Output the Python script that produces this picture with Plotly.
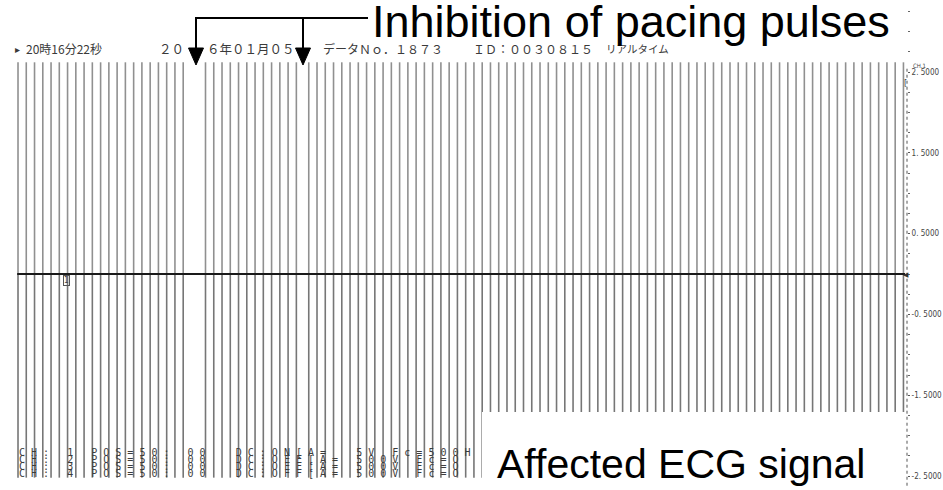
import plotly.graph_objects as go

# ---------------- data ----------------
# pacing-pulse artefacts (time, s) — gaps mark the inhibited pulses
pulse_times = [
    0.00, 0.10, 0.20, 0.30, 0.40, 0.50, 0.60, 0.70, 0.80, 0.90, 1.00,
    1.10, 1.20, 1.30, 1.40, 1.50, 1.60, 1.70, 1.80, 1.90, 2.00,
    2.27, 2.37, 2.47, 2.57, 2.67, 2.77, 2.87, 2.97, 3.07, 3.17, 3.27, 3.37,
    3.52, 3.62, 3.72, 3.82, 3.92, 4.02, 4.12, 4.22, 4.32, 4.42, 4.52, 4.62,
    4.72, 4.82, 4.92, 5.02, 5.12, 5.22, 5.32, 5.42, 5.52, 5.62, 5.72, 5.82,
    5.92, 6.02, 6.12, 6.22, 6.32, 6.42, 6.52, 6.62, 6.72, 6.82, 6.92, 7.02,
    7.12, 7.22, 7.32, 7.42, 7.52, 7.62, 7.72, 7.82, 7.92, 8.02, 8.12, 8.22,
    8.32, 8.42, 8.52, 8.62, 8.72, 8.82, 8.92, 9.02, 9.12, 9.22, 9.32, 9.42,
    9.52, 9.62, 9.72, 9.82, 9.92, 10.02, 10.12, 10.22, 10.32, 10.42, 10.52,
    10.62, 10.72,
]
pulse_top = 2.62
pulse_bottom = -2.52
baseline_value = 0.0

y_tick_values = [2.5, 1.5, 0.5, -0.5, -1.5, -2.5]
y_tick_labels = ["2. 5000", "1. 5000", "0. 5000", "-0. 5000", "-1. 5000", "-2. 5000"]

header_chunks = ["▸", "20時16分22秒", "２０", "６年０１月０５", "データＮｏ．１８７３",
                 "ＩＤ：００３０８１５", "リアルタイム"]
channel_rows = [
    "CH: 1 POS=50: 00  DC:ON[A=  5V Fc=500H",
    "CH: 2 POS=50: 00  DC:OFF[A= 500V Fc=O",
    "CH: 3 POS=50: 00  DC:OFF[A= 500V Fc=O",
    "CH: 4 POS=50: 00  DC:OFF[A= 500V Fc=O",
]
title_text = "Inhibition of pacing pulses"
signal_text = "Affected ECG signal"

# ---------------- layout helpers (pixel -> paper) ----------------
W, H = 943, 490
ML, MR, MT, MB = 0, 36, 0, 0
PW, PH = W - ML - MR, H - MT - MB


def px(x):
    return (x - ML) / PW


def py(y):
    return 1 - (y - MT) / PH


# ---------------- traces ----------------
ux, uy, lx, ly = [], [], [], []
for t in pulse_times:
    ux += [t, t, None]
    uy += [baseline_value, pulse_top, None]
    lx += [t, t, None]
    ly += [pulse_bottom, baseline_value, None]

fig = go.Figure()
fig.add_trace(go.Scatter(x=ux, y=uy, mode="lines", hoverinfo="skip",
                         line=dict(color="#909090", width=1.6), showlegend=False))
fig.add_trace(go.Scatter(x=lx, y=ly, mode="lines", hoverinfo="skip",
                         line=dict(color="#767676", width=1.6), showlegend=False))
fig.add_trace(go.Scatter(x=[pulse_times[0] - 0.01, pulse_times[-1] + 0.02],
                         y=[baseline_value, baseline_value], mode="lines",
                         hoverinfo="skip", line=dict(color="#1a1a1a", width=2),
                         showlegend=False))

shapes = []
# dotted right-hand axis line
shapes.append(dict(type="line", xref="paper", yref="y", x0=px(907), x1=px(907),
                   y0=-2.62, y1=2.55, line=dict(color="#555", width=1, dash="dot")))
# white patch behind the lower-right label
shapes.append(dict(type="rect", xref="paper", yref="paper", x0=px(482), x1=px(906),
                   y0=py(490), y1=py(412), fillcolor="white", line=dict(width=0),
                   layer="above"))
# connector lines of the callout
lw = dict(color="black", width=2)
shapes.append(dict(type="line", xref="paper", yref="paper", x0=px(195), x1=px(368),
                   y0=py(18), y1=py(18), line=lw, layer="above"))
for ax_ in (196, 303):
    shapes.append(dict(type="line", xref="paper", yref="paper", x0=px(ax_), x1=px(ax_),
                       y0=py(18), y1=py(50), line=lw, layer="above"))
    shapes.append(dict(type="path", xref="paper", yref="paper",
                       path=f"M {px(ax_-7.5)} {py(48)} L {px(ax_+7.5)} {py(48)} L {px(ax_)} {py(65)} Z",
                       fillcolor="black", line=dict(color="black", width=1), layer="above"))

annotations = []
header_pos = [13, 24, 157, 205, 321, 471, 604]
header_size = [10, 12, 12.5, 12.5, 12, 12, 10.5]
for txt, xp, fs in zip(header_chunks, header_pos, header_size):
    annotations.append(dict(text=txt, xref="paper", yref="paper", x=px(xp), y=py(49),
                            xanchor="left", yanchor="middle", showarrow=False,
                            font=dict(family="Noto Sans CJK JP", size=fs, color="#3a3a3a")))

NB = "\u00a0"
row_y = [452, 459, 466, 473]
for row, yy in zip(channel_rows, row_y):
    spaced = NB.join(c if c != " " else NB for c in row)
    annotations.append(dict(text=spaced, xref="paper", yref="paper", x=px(17), y=py(yy),
                            xanchor="left", yanchor="middle", showarrow=False,
                            font=dict(family="DejaVu Sans Mono", size=10, color="#3c3c3c")))

annotations.append(dict(text=title_text, xref="paper", yref="paper", x=px(370), y=py(22),
                        xanchor="left", yanchor="middle", showarrow=False,
                        font=dict(family="Liberation Sans", size=45, color="black")))
annotations.append(dict(text=signal_text, xref="paper", yref="paper", x=px(495), y=py(464),
                        xanchor="left", yanchor="middle", showarrow=False,
                        font=dict(family="Liberation Sans", size=41, color="black")))
# channel marker, right-hand marker and small header of the scale
annotations.append(dict(text="1", xref="paper", yref="y", x=px(63), y=-0.08,
                        showarrow=False, borderwidth=1, bordercolor="#555", borderpad=0,
                        font=dict(family="DejaVu Sans Condensed", size=8, color="#444")))
annotations.append(dict(text="◀", xref="paper", yref="y", x=px(911), y=baseline_value,
                        showarrow=False, font=dict(size=7, color="#333")))
annotations.append(dict(text="CH.1", xref="paper", yref="paper", x=px(928), y=py(60),
                        showarrow=False, font=dict(family="DejaVu Sans Condensed", size=6, color="#444")))
annotations.append(dict(text="[", xref="paper", yref="paper", x=px(909), y=py(76),
                        showarrow=False, font=dict(family="DejaVu Sans Condensed", size=9, color="#444")))

fig.update_layout(
    width=W, height=H, margin=dict(l=ML, r=MR, t=MT, b=MB),
    paper_bgcolor="white", plot_bgcolor="white", template="none",
    shapes=shapes, annotations=annotations,
    xaxis=dict(range=[-0.218, 10.763], visible=False, showgrid=False, zeroline=False,
               automargin=False),
    yaxis=dict(range=[-2.673, 3.391], side="right", showgrid=False, zeroline=False,
               showline=False, automargin=False,
               tickmode="array", tickvals=y_tick_values, ticktext=y_tick_labels,
               ticks="outside", ticklen=2, tickcolor="#555",
               minor=dict(dtick=0.25, ticks="outside", ticklen=2, tickcolor="#666"),
               tickfont=dict(family="DejaVu Sans Condensed", size=8, color="#444")),
)

fig.write_html("out.html")
